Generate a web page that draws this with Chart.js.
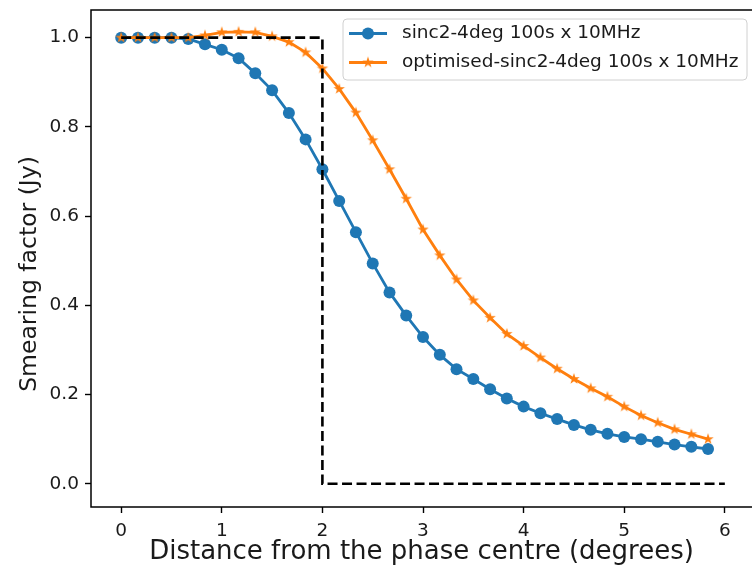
<!DOCTYPE html>
<html>
<head>
<meta charset="utf-8">
<script src="https://cdn.jsdelivr.net/npm/chart.js@4.4.1/dist/chart.umd.min.js"></script>
<style>
  html, body { margin: 0; padding: 0; background: #ffffff; overflow: hidden; }
  canvas { display: block; }
</style>
</head>
<body>
<canvas id="chart" width="752" height="575"></canvas>
<script>
// Distance from the phase centre (degrees) at which each smearing factor was sampled
const distance = [0, 0.167, 0.333, 0.5, 0.667, 0.833, 1.0, 1.167, 1.333, 1.5, 1.667, 1.833,
  2.0, 2.167, 2.333, 2.5, 2.667, 2.833, 3.0, 3.167, 3.333, 3.5, 3.667, 3.833,
  4.0, 4.167, 4.333, 4.5, 4.667, 4.833, 5.0, 5.167, 5.333, 5.5, 5.667, 5.833];

// sinc2-4deg kernel, 100 s x 10 MHz averaging
const sincSmearing = [1.0, 1.0, 1.0, 1.0, 0.997, 0.985, 0.973, 0.954, 0.920, 0.882, 0.831, 0.772,
  0.705, 0.634, 0.564, 0.494, 0.429, 0.377, 0.329, 0.289, 0.257, 0.235, 0.212, 0.191,
  0.173, 0.158, 0.145, 0.132, 0.121, 0.112, 0.105, 0.100, 0.094, 0.088, 0.083, 0.078];

// optimised sinc2-4deg kernel, 100 s x 10 MHz averaging
const optimisedSmearing = [1.0, 1.0, 1.0, 1.0, 1.0, 1.005, 1.012, 1.013, 1.012, 1.003, 0.990, 0.967,
  0.931, 0.885, 0.832, 0.770, 0.705, 0.639, 0.570, 0.512, 0.458, 0.411, 0.372, 0.336,
  0.309, 0.283, 0.258, 0.235, 0.214, 0.195, 0.173, 0.153, 0.137, 0.122, 0.111, 0.100];

// ideal top-hat response (dashed)
const idealX = [0, 2, 2, 6];
const idealY = [1, 1, 0, 0];

const xTickValues = [0, 1, 2, 3, 4, 5, 6];
const xTickLabels = ['0', '1', '2', '3', '4', '5', '6'];
const yTickValues = [0, 0.2, 0.4, 0.6, 0.8, 1.0];
const yTickLabels = ['0.0', '0.2', '0.4', '0.6', '0.8', '1.0'];

const seriesNames = ['sinc2-4deg 100s x 10MHz', 'optimised-sinc2-4deg 100s x 10MHz'];
const xTitle = 'Distance from the phase centre (degrees)';
const yTitle = 'Smearing factor (Jy)';

const BLUE = '#1f77b4';
const ORANGE = '#ff7f0e';
const FONT = 'DejaVu Sans';
const TEXT = '#1a1a1a';

// plot box in canvas pixels (right side runs off the canvas edge)
const PLOT = { left: 91, top: 10, right: 752, bottom: 507 };

// filled five-pointed star sprite used as the orange marker
function makeStar(color, outer) {
  const inner = outer * 0.382;
  const size = Math.ceil(outer * 2 + 2);
  const c = document.createElement('canvas');
  c.width = size; c.height = size;
  const g = c.getContext('2d');
  g.translate(size / 2, size / 2);
  g.beginPath();
  for (let i = 0; i < 10; i++) {
    const r = i % 2 === 0 ? outer : inner;
    const a = -Math.PI / 2 + i * Math.PI / 5;
    const px = r * Math.cos(a), py = r * Math.sin(a);
    if (i === 0) g.moveTo(px, py); else g.lineTo(px, py);
  }
  g.closePath();
  g.fillStyle = color;
  g.fill();
  return c;
}
const starSprite = makeStar(ORANGE, 6);

const toPoints = (xs, ys) => xs.map((x, i) => ({ x: x, y: ys[i] }));

// pin the plot box and the two scale boxes around it
const boxPlugin = {
  id: 'pinBox',
  afterLayout(chart) {
    const H = chart.height;
    const a = chart.chartArea;
    a.left = PLOT.left; a.right = PLOT.right; a.top = PLOT.top; a.bottom = PLOT.bottom;
    a.width = PLOT.right - PLOT.left; a.height = PLOT.bottom - PLOT.top;
    const x = chart.scales.x, y = chart.scales.y;
    Object.assign(x, { left: PLOT.left, right: PLOT.right, width: PLOT.right - PLOT.left,
      top: PLOT.bottom, bottom: H, height: H - PLOT.bottom });
    Object.assign(y, { left: 0, right: PLOT.left, width: PLOT.left,
      top: PLOT.top, bottom: PLOT.bottom, height: PLOT.bottom - PLOT.top });
    x.configure();
    y.configure();
  }
};

// axes frame (left, top, bottom spines) and the vertical axis title
const framePlugin = {
  id: 'frame',
  afterDatasetsDraw(chart) {
    const { ctx, chartArea: a } = chart;
    ctx.save();
    ctx.strokeStyle = '#000';
    ctx.lineWidth = 1.5;
    ctx.beginPath();
    ctx.moveTo(chart.width + 2, a.top);
    ctx.lineTo(a.left, a.top);
    ctx.lineTo(a.left, a.bottom);
    ctx.lineTo(chart.width + 2, a.bottom);
    ctx.stroke();

    ctx.translate(30, 274);
    ctx.rotate(-Math.PI / 2);
    ctx.fillStyle = TEXT;
    ctx.font = '23.5px "' + FONT + '"';
    ctx.textAlign = 'center';
    ctx.textBaseline = 'middle';
    ctx.fillText(yTitle, 0, 0);
    ctx.restore();
  }
};

// boxed legend with line-and-marker handles
const legendPlugin = {
  id: 'boxLegend',
  afterDraw(chart) {
    const { ctx } = chart;
    const box = { x: 343, y: 19, w: 404, h: 61, r: 4 };
    ctx.save();
    ctx.beginPath();
    ctx.roundRect(box.x, box.y, box.w, box.h, box.r);
    ctx.fillStyle = 'rgba(255,255,255,0.8)';
    ctx.fill();
    ctx.strokeStyle = '#d0d0d0';
    ctx.lineWidth = 1;
    ctx.stroke();

    const rows = [
      { y: 33.5, color: BLUE, marker: 'circle', label: seriesNames[0] },
      { y: 62.5, color: ORANGE, marker: 'star', label: seriesNames[1] }
    ];
    rows.forEach(row => {
      ctx.strokeStyle = row.color;
      ctx.lineWidth = 2.8;
      ctx.beginPath();
      ctx.moveTo(349, row.y);
      ctx.lineTo(387, row.y);
      ctx.stroke();
      if (row.marker === 'circle') {
        ctx.beginPath();
        ctx.arc(368, row.y, 6, 0, Math.PI * 2);
        ctx.fillStyle = row.color;
        ctx.fill();
      } else {
        ctx.drawImage(starSprite, 368 - starSprite.width / 2, row.y - starSprite.height / 2);
      }
      ctx.fillStyle = TEXT;
      ctx.font = '18.5px "' + FONT + '"';
      ctx.textBaseline = 'middle';
      ctx.textAlign = 'left';
      ctx.fillText(row.label, 402, row.y);
    });
    ctx.restore();
  }
};

const tickFont = { family: FONT, size: 18.5 };

new Chart(document.getElementById('chart'), {
  type: 'line',
  data: {
    datasets: [
      {
        label: 'ideal',
        data: toPoints(idealX, idealY),
        borderColor: '#000',
        borderWidth: 2.6,
        borderDash: [10, 4.5],
        pointRadius: 0,
        fill: false,
        tension: 0,
        order: 0
      },
      {
        label: seriesNames[1],
        data: toPoints(distance, optimisedSmearing),
        borderColor: ORANGE,
        backgroundColor: ORANGE,
        borderWidth: 2.8,
        pointStyle: starSprite,
        pointRadius: 6,
        fill: false,
        tension: 0,
        order: 1
      },
      {
        label: seriesNames[0],
        data: toPoints(distance, sincSmearing),
        borderColor: BLUE,
        backgroundColor: BLUE,
        borderWidth: 2.8,
        pointStyle: 'circle',
        pointRadius: 6,
        pointBorderWidth: 0,
        fill: false,
        tension: 0,
        order: 2
      }
    ]
  },
  options: {
    responsive: false,
    animation: false,
    events: [],
    layout: { padding: { top: 10, right: 0, bottom: 0, left: 0 } },
    plugins: {
      legend: { display: false },
      tooltip: { enabled: false }
    },
    scales: {
      x: {
        type: 'linear',
        min: -0.3,
        max: 6.27,
        afterBuildTicks: axis => { axis.ticks = xTickValues.map(v => ({ value: v })); },
        ticks: {
          font: tickFont,
          color: TEXT,
          padding: 7,
          maxRotation: 0,
          autoSkip: false,
          callback: (v, i) => xTickLabels[i]
        },
        grid: {
          display: true,
          drawOnChartArea: false,
          drawTicks: true,
          tickLength: 6,
          tickWidth: 1.4,
          tickColor: '#000'
        },
        border: { display: false },
        title: {
          display: true,
          text: xTitle,
          font: { family: FONT, size: 26 },
          color: TEXT,
          padding: { top: 0, bottom: 7 }
        }
      },
      y: {
        type: 'linear',
        min: -0.052,
        max: 1.062,
        afterBuildTicks: axis => { axis.ticks = yTickValues.map(v => ({ value: v })); },
        ticks: {
          font: tickFont,
          color: TEXT,
          padding: 6,
          autoSkip: false,
          callback: (v, i) => yTickLabels[i]
        },
        grid: {
          display: true,
          drawOnChartArea: false,
          drawTicks: true,
          tickLength: 6,
          tickWidth: 1.4,
          tickColor: '#000'
        },
        border: { display: false },
        title: { display: false }
      }
    }
  },
  plugins: [boxPlugin, framePlugin, legendPlugin]
});
</script>
</body>
</html>
